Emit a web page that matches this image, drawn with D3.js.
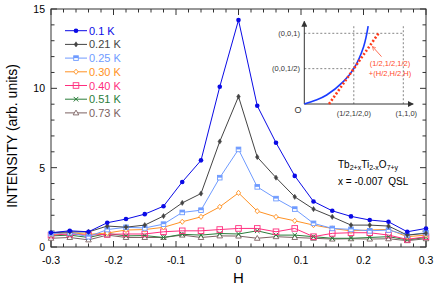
<!DOCTYPE html>
<html>
<head>
<meta charset="utf-8">
<script src="https://cdn.jsdelivr.net/npm/d3@7"></script>
<style>
  body { margin: 0; background: #fff; }
  text { font-family: "Liberation Sans", Arial, sans-serif; white-space: pre; }
</style>
</head>
<body>
<script>
let width = 436, height = 289;

// H positions of the scan
let hValues = [-0.3, -0.27, -0.24, -0.21, -0.18, -0.15, -0.12, -0.09, -0.06, -0.03, 0,
               0.03, 0.06, 0.09, 0.12, 0.15, 0.18, 0.21, 0.24, 0.27, 0.3];

let temps = ["0.1 K", "0.21 K", "0.25 K", "0.30 K", "0.40 K", "0.51 K", "0.73 K"];

let i010 = [0.9, 1.02, 0.96, 1.53, 1.76, 2.07, 2.57, 4.1, 5.46, 10.1, 14.3,
            8.9, 6.57, 4.48, 2.87, 2.28, 1.93, 1.7, 1.59, 0.96, 1.17];
let i021 = [0.9, 0.95, 0.95, 1.32, 1.25, 1.38, 1.95, 2.78, 3.37, 6.65, 9.48,
            5.67, 4.37, 3.16, 2.39, 1.9, 1.38, 1.38, 1.32, 0.75, 0.86];
let i025 = [0.85, 0.9, 0.65, 1.1, 1.24, 1.2, 1.44, 2.18, 2.32, 4.37, 6.15,
            3.79, 3.05, 2.39, 1.49, 1.17, 1.11, 1.02, 1.07, 0.75, 0.9];
let i030 = [0.8, 0.9, 0.8, 0.88, 1.07, 1.1, 1.24, 1.59, 1.9, 2.53, 3.41,
            2.26, 1.9, 1.65, 1.38, 1.17, 1.02, 1.07, 1.11, 0.65, 0.75];
let i040 = [0.75, 0.82, 0.75, 0.8, 0.82, 0.82, 0.96, 1.02, 1.02, 1.1, 1.17,
            1.17, 0.96, 1.17, 0.65, 0.86, 0.9, 0.9, 0.75, 0.48, 0.65];
let i051 = [0.7, 0.75, 0.6, 0.85, 0.7, 0.72, 0.6, 0.8, 0.75, 0.85, 0.82,
            1.02, 0.75, 0.75, 0.65, 0.55, 0.55, 0.6, 0.65, 0.45, 0.6];
let i073 = [0.55, 0.6, 0.45, 0.75, 0.6, 0.6, 0.6, 0.75, 0.6, 0.7, 0.69,
            0.55, 0.65, 0.6, 0.55, 0.5, 0.52, 0.5, 0.52, 0.4, 0.52];

let xTickLabels = ["-0.3", "-0.2", "-0.1", "0", "0.1", "0.2", "0.3"];
let yTickLabels = ["0", "5", "10", "15"];

let colors = ["#0a0ae6", "#444444", "#6f9bff", "#ff9224", "#ff2e7e", "#2a7d3a", "#7c6262"];
let symbols = ["dot", "diamond", "square", "odiamond", "osquare", "cross", "triangle"];

let series = [i010, i021, i025, i030, i040, i051, i073];

let margin = {left: 51, right: 10, top: 9, bottom: 42};

let svg = d3.select("body").append("svg")
    .attr("width", width)
    .attr("height", height);

let x = d3.scaleLinear().domain([-0.3, 0.3]).range([margin.left, width - margin.right]);
let y = d3.scaleLinear().domain([0, 15]).range([height - margin.bottom, margin.top]);

let x0 = x.range()[0], x1 = x.range()[1], y0 = y.range()[0], y1 = y.range()[1];

// ticks (inward, all four sides)
let minorX = d3.range(-15, 16).map(d => d * 0.02);
let minorY = d3.range(0, 16);
let axes = svg.append("g").attr("stroke", "#333").attr("stroke-width", 1);

minorX.forEach(function(v) {
  let major = Math.abs(Math.round(v * 10) - v * 10) < 1e-6;
  let len = major ? 6 : 3.5;
  axes.append("line").attr("x1", x(v)).attr("x2", x(v)).attr("y1", y0).attr("y2", y0 - len);
  axes.append("line").attr("x1", x(v)).attr("x2", x(v)).attr("y1", y1).attr("y2", y1 + len);
});
minorY.forEach(function(v) {
  let len = v % 5 == 0 ? 6 : 3.5;
  axes.append("line").attr("x1", x0).attr("x2", x0 + len).attr("y1", y(v)).attr("y2", y(v));
  axes.append("line").attr("x1", x1).attr("x2", x1 - len).attr("y1", y(v)).attr("y2", y(v));
});
axes.append("rect")
  .attr("x", x0).attr("y", y1)
  .attr("width", x1 - x0).attr("height", y0 - y1)
  .attr("fill", "none");

svg.selectAll(".xl")
  .data(xTickLabels)
.enter().append("text")
  .attr("x", d => x(+d))
  .attr("y", y0 + 17)
  .attr("text-anchor", "middle")
  .attr("font-size", 10.5)
  .text(d => d);

svg.selectAll(".yl")
  .data(yTickLabels)
.enter().append("text")
  .attr("x", x0 - 6)
  .attr("y", d => y(+d) + 4)
  .attr("text-anchor", "end")
  .attr("font-size", 10.5)
  .text(d => d);

svg.append("text")
  .attr("x", x(0))
  .attr("y", 283)
  .attr("text-anchor", "middle")
  .attr("font-size", 15)
  .text("H");

svg.append("text")
  .attr("transform", "translate(17," + 136 + ") rotate(-90)")
  .attr("text-anchor", "middle")
  .attr("font-size", 14)
  .text("INTENSITY (arb. units)");

// marker drawing
function marker(g, type, color, cx, cy) {
  if (type == "dot") {
    g.append("circle").attr("cx", cx).attr("cy", cy).attr("r", 2.3).attr("fill", color);
  } else if (type == "diamond") {
    g.append("path").attr("d", `M${cx},${cy-2.6}L${cx+1.8},${cy}L${cx},${cy+2.6}L${cx-1.8},${cy}Z`)
      .attr("fill", color).attr("stroke", color).attr("stroke-width", 0.5);
  } else if (type == "square") {
    g.append("rect").attr("x", cx - 2.3).attr("y", cy - 2.3).attr("width", 4.6).attr("height", 4.6)
      .attr("fill", "#fff").attr("stroke", color).attr("stroke-width", 0.9);
    g.append("rect").attr("x", cx - 2.3).attr("y", cy - 2.3).attr("width", 4.6).attr("height", 2.3)
      .attr("fill", color);
  } else if (type == "odiamond") {
    g.append("path").attr("d", `M${cx},${cy-2.6}L${cx+2.2},${cy}L${cx},${cy+2.6}L${cx-2.2},${cy}Z`)
      .attr("fill", "#fff").attr("stroke", color).attr("stroke-width", 0.9);
  } else if (type == "osquare") {
    g.append("rect").attr("x", cx - 2.8).attr("y", cy - 2.8).attr("width", 5.6).attr("height", 5.6)
      .attr("fill", "none").attr("stroke", color).attr("stroke-width", 0.9);
  } else if (type == "cross") {
    g.append("path").attr("d", `M${cx-2.3},${cy-2.3}L${cx+2.3},${cy+2.3}M${cx-2.3},${cy+2.3}L${cx+2.3},${cy-2.3}`)
      .attr("stroke", color).attr("stroke-width", 1);
  } else if (type == "triangle") {
    g.append("path").attr("d", `M${cx},${cy-2.8}L${cx+2.8},${cy+2}L${cx-2.8},${cy+2}Z`)
      .attr("fill", "#fff").attr("stroke", color).attr("stroke-width", 0.9);
  }
}

let line = d3.line().x((d, i) => x(hValues[i])).y(d => y(d));

// draw from last to first so 0.1 K lies on top
for (let s = series.length - 1; s >= 0; s--) {
  let g = svg.append("g");
  g.append("path")
    .attr("d", line(series[s]))
    .attr("fill", "none")
    .attr("stroke", colors[s])
    .attr("stroke-width", 1);
  series[s].forEach((v, i) => marker(g, symbols[s], colors[s], x(hValues[i]), y(v)));
}

// legend
let legend = svg.append("g");
temps.forEach(function(t, i) {
  let ly = 30.7 + i * 13.7;
  legend.append("line").attr("x1", 65).attr("x2", 87).attr("y1", ly).attr("y2", ly)
    .attr("stroke", colors[i]).attr("stroke-width", 1);
  marker(legend, symbols[i], colors[i], 76, ly);
  legend.append("text").attr("x", 89).attr("y", ly + 4)
    .attr("font-size", 11).attr("fill", colors[i]).text(t);
});

// sample label
let lab = svg.append("text").attr("x", 338).attr("y", 168).attr("font-size", 10);
lab.append("tspan").text("Tb");
lab.append("tspan").attr("font-size", 7).attr("dy", 2).text("2+x");
lab.append("tspan").attr("dy", -2).text("Ti");
lab.append("tspan").attr("font-size", 7).attr("dy", 2).text("2-x");
lab.append("tspan").attr("dy", -2).text("O");
lab.append("tspan").attr("font-size", 7).attr("dy", 2).text("7+y");
svg.append("text").attr("x", 338).attr("y", 185).attr("font-size", 10)
  .text("x = -0.007  QSL");

// inset: schematic of scan path in (HHL) plane
let ix = d3.scaleLinear().domain([0, 1]).range([304.3, 403.3]);
let iy = d3.scaleLinear().domain([0, 1]).range([104, 33.3]);
let curvePts = [[0, 0], [0.12, 0.055], [0.226, 0.127], [0.394, 0.316], [0.5, 0.5], [0.6, 0.815], [0.645, 1.1]];
let scanPts = [[0.25, 0], [0.76, 1.02]];
let inset = svg.append("g");

svg.append("defs").append("marker")
  .attr("id", "ah").attr("viewBox", "0 0 10 10").attr("refX", 9).attr("refY", 5)
  .attr("markerWidth", 6).attr("markerHeight", 6).attr("orient", "auto")
  .append("path").attr("d", "M0,0L10,5L0,10Z").attr("fill", "#333");
svg.select("defs").append("marker")
  .attr("id", "ahr").attr("viewBox", "0 0 10 10").attr("refX", 9).attr("refY", 5)
  .attr("markerWidth", 5).attr("markerHeight", 5).attr("orient", "auto")
  .append("path").attr("d", "M0,0L10,5L0,10").attr("fill", "none").attr("stroke", "#ff4a2a").attr("stroke-width", 1.5);

let dash = inset.append("g").attr("stroke", "#666").attr("stroke-width", 0.8).attr("stroke-dasharray", "2,2");
dash.append("line").attr("x1", ix(0)).attr("x2", ix(1)).attr("y1", iy(1)).attr("y2", iy(1));
dash.append("line").attr("x1", ix(0)).attr("x2", ix(0.5)).attr("y1", iy(0.5)).attr("y2", iy(0.5));
dash.append("line").attr("x1", ix(0.5)).attr("x2", ix(0.5)).attr("y1", iy(1.1)).attr("y2", iy(0));
dash.append("line").attr("x1", ix(1)).attr("x2", ix(1)).attr("y1", iy(1.1)).attr("y2", iy(0));

inset.append("line").attr("x1", ix(0)).attr("x2", ix(0)).attr("y1", iy(0)).attr("y2", iy(1.17))
  .attr("stroke", "#333").attr("stroke-width", 1).attr("marker-end", "url(#ah)");
inset.append("line").attr("x1", ix(0)).attr("x2", ix(1.1)).attr("y1", iy(0)).attr("y2", iy(0))
  .attr("stroke", "#333").attr("stroke-width", 1).attr("marker-end", "url(#ah)");

inset.append("path")
  .attr("d", d3.line().x(d => ix(d[0])).y(d => iy(d[1])).curve(d3.curveCatmullRom)(curvePts))
  .attr("fill", "none").attr("stroke", "#1a3cff").attr("stroke-width", 1.6);

inset.append("path")
  .attr("d", d3.line().x(d => ix(d[0])).y(d => iy(d[1]))(scanPts))
  .attr("fill", "none").attr("stroke", "#ff3a1a").attr("stroke-width", 2.6)
  .attr("stroke-dasharray", "2,2");

inset.append("line").attr("x1", ix(0.78)).attr("y1", iy(0.67)).attr("x2", ix(0.69)).attr("y2", iy(0.81))
  .attr("stroke", "#ff4a2a").attr("stroke-width", 0.8).attr("marker-end", "url(#ahr)");

let itext = inset.append("g").attr("font-size", 7.5).attr("fill", "#333");
itext.append("text").attr("x", 300).attr("y", iy(1) + 2.5).attr("text-anchor", "end").text("(0,0,1)");
itext.append("text").attr("x", 300).attr("y", iy(0.5) + 2.5).attr("text-anchor", "end").text("(0,0,1/2)");
itext.append("text").attr("x", 298).attr("y", 113).attr("text-anchor", "middle").attr("font-size", 9).text("O");
itext.append("text").attr("x", ix(0.5)).attr("y", 116).attr("text-anchor", "middle").text("(1/2,1/2,0)");
itext.append("text").attr("x", ix(1.03)).attr("y", 116).attr("text-anchor", "middle").text("(1,1,0)");
itext.append("text").attr("x", 390).attr("y", 66).attr("text-anchor", "middle").attr("fill", "#ff4a2a").text("(1/2,1/2,1/2)");
itext.append("text").attr("x", 390).attr("y", 76).attr("text-anchor", "middle").attr("fill", "#ff4a2a").text("+(H/2,H/2,H)");
</script>
</body>
</html>
